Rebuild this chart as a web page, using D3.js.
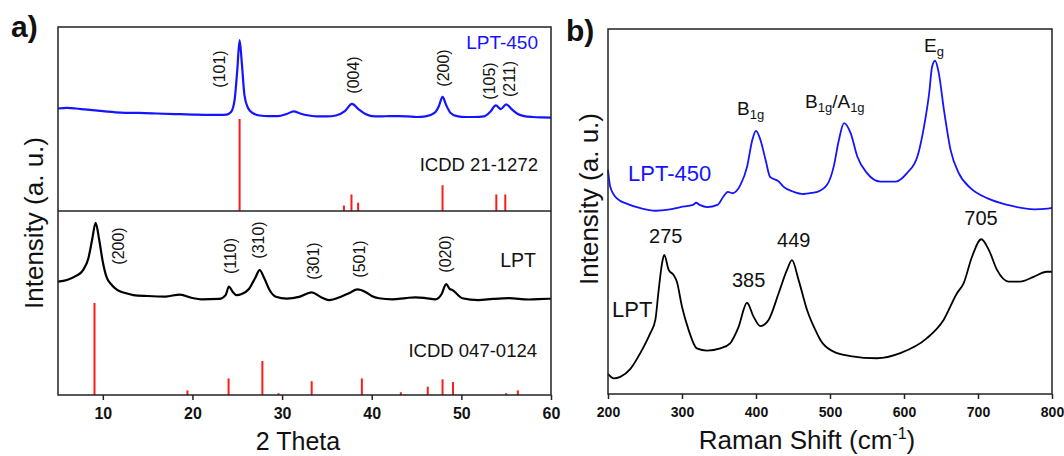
<!DOCTYPE html>
<html><head><meta charset="utf-8">
<script src="https://cdn.jsdelivr.net/npm/d3@7"></script>
<style>
html,body{margin:0;padding:0;background:#fff;}
svg{display:block;font-family:"Liberation Sans",Arial,sans-serif;}
</style></head><body>
<svg id="chart" width="1064" height="456"></svg>
<script>
// ---------- DATA: panel a (XRD) ----------
// LPT-450 XRD pattern [2theta, intensity a.u. (0-100 within upper sub-panel)]
const xrdLPT450 = [
 [5.0,55.7],[6.0,56.0],[7.0,55.7],[8.0,55.2],[10,54.3],[12,53.5],[14,53.3],[16,53.0],[18,52.7],[20,52.4],
 [22,52.2],[23,52.2],[23.8,52.4],[24.3,53.8],[24.7,60.3],[25.0,76.6],[25.26,92.9],[25.5,80.9],[25.8,63.0],
 [26.2,56.0],[26.7,53.3],[27.5,51.9],[28.5,51.6],[29.5,51.6],[30.5,52.7],[31.3,54.1],[32.0,53.0],[33,51.9],
 [34,51.4],[35,51.4],[36,51.9],[37,54.3],[37.8,58.2],[38.5,55.4],[39.3,52.7],[40,51.6],[41,51.4],[42,51.6],
 [43,51.6],[44,51.4],[45,51.1],[46,51.4],[47,53.3],[47.5,57.1],[47.9,62.1],[48.3,57.6],[48.8,53.3],[49.5,51.6],
 [50.5,51.1],[51.5,51.1],[52.5,51.4],[53.2,53.8],[53.85,57.4],[54.4,55.4],[55.0,58.0],[55.6,55.4],[56.3,52.7],
 [57,51.6],[58,51.1],[59,50.9],[60,50.8]
];
// LPT XRD pattern [2theta, intensity a.u. (0-100 within lower sub-panel)]
const xrdLPT = [
 [5.0,61.6],[6.0,62.5],[7.0,64.7],[7.8,67.9],[8.4,74.5],[8.8,84.2],[9.2,93.6],[9.6,84.2],[10.0,72.3],[10.4,64.3],
 [11.0,59.8],[11.6,57.1],[12.5,55.4],[13.4,54.3],[15,53.8],[17,53.5],[18.6,54.6],[20,52.7],[21,52.0],[23,52.2],
 [23.7,54.3],[24.07,58.9],[24.5,56.0],[24.9,54.3],[25.5,54.9],[26.3,57.6],[27.0,63.6],[27.5,67.9],[28.0,63.6],
 [28.6,57.1],[29.3,53.4],[30.5,52.4],[31.9,53.3],[33.3,55.8],[34.3,53.3],[35.25,51.6],[36.5,53.3],[37.5,55.4],
 [38.4,57.4],[39.3,56.0],[40.0,53.8],[40.8,52.6],[42.3,52.0],[43.8,52.7],[44.9,53.1],[46,52.7],[47.1,52.0],
 [47.8,54.9],[48.3,60.3],[48.7,57.6],[49.0,57.1],[49.5,54.9],[50.1,52.6],[51.9,51.6],[53.5,52.2],[55.3,52.6],
 [57.5,51.9],[59.7,52.3],[60,52.3]
];
// Reference sticks [2theta, relative intensity]
const icdd211272 = [[25.26,100],[36.9,6],[37.74,18],[38.48,9],[47.9,28],[53.9,18],[54.9,18]];
const icdd0470124 = [[9.07,100],[19.44,5],[24.03,18],[27.8,37],[29.6,2],[33.3,15],[38.9,18],[43.25,3],
 [46.25,9],[47.9,17],[49.07,14],[55.0,2],[56.3,5]];
// Miller index labels [text, 2theta position of label]
const hklTop = [["(101)",23.07],["(004)",37.94],["(200)",47.98],["(105)",53.19],["(211)",55.42]];
const hklBot = [["(200)",11.73],["(110)",24.19],["(310)",27.35],["(301)",33.48],["(501)",38.69],["(020)",48.25]];
const xTicksA = [10,20,30,40,50,60];

// ---------- DATA: panel b (Raman) ----------
const ramanLPT450 = [
 [200,61.4],[203,56.8],[212,53.6],[226,52.1],[244,50.9],[264,50.2],[284,50.6],[298,51.2],[315,51.8],[319,52.4],
 [324,51.8],[334,51.2],[348,51.8],[356,54.1],[362,55.4],[368,55.0],[379,57.3],[388,62.3],[395,69.6],[400,72.1],
 [406,69.6],[413,64.1],[419,59.5],[431,58.2],[437,56.8],[451,55.4],[464,54.8],[478,55.2],[483,55.4],[496,57.3],
 [505,62.3],[512,69.6],[519,74.2],[528,71.4],[537,65.0],[550,60.5],[568,58.2],[589,58.2],[604,60.5],[618,65.0],
 [627,73.2],[634,82.4],[638,89.7],[642,91.3],[647,87.9],[654,77.8],[663,66.8],[674,60.5],[690,56.4],[713,53.6],
 [740,51.8],[776,50.6],[794,50.8],[800,51.0]
];
const ramanLPT = [
 [200,5.5],[207.6,4.3],[216.6,4.7],[230,6.8],[243.6,11.2],[257,16.6],[264,20.3],[268,27.6],[273,35.8],[276,38.1],
 [282,34.0],[288.6,32.6],[293,30.8],[300,23.9],[309,17.5],[320,12.5],[333.8,11.9],[351.8,12.5],[365,13.9],
 [376.5,18.4],[387.8,25.0],[396.7,21.2],[405.8,18.6],[417,20.3],[430.6,27.6],[441.9,34.0],[448.6,36.7],
 [457.6,31.2],[469,23.0],[482.4,16.6],[487,14.8],[504.9,11.6],[527.5,10.4],[563.5,9.8],[595,11.2],[631,15.3],
 [653.5,20.3],[671.6,27.6],[680.5,30.3],[691.9,37.6],[704.5,42.4],[714.6,39.5],[725.7,34.0],[741.4,30.8],
 [757,30.8],[775,32.1],[793,33.5],[800,33.5]
];
// Peak labels [text, label x (cm-1), label y (a.u.)]
const ramanPeaksLPT = [["275",278,43.4],["385",390,31.2],["449",451,42.2],["705",704,48.2]];
const xTicksB = [200,300,400,500,600,700,800];

// ---------- DRAW ----------
const svg = d3.select("#chart");
const blue = "#1414ff", red = "#ff1a1a", black = "#000";

const xA = d3.scaleLinear().domain([5,60]).range([58,551]);
const yTop = d3.scaleLinear().domain([0,100]).range([211,27]);
const yBot = d3.scaleLinear().domain([0,100]).range([395,211]);
const sTop = d3.scaleLinear().domain([0,100]).range([211,119]);
const sBot = d3.scaleLinear().domain([0,100]).range([395,303]);

const xB = d3.scaleLinear().domain([200,800]).range([608,1052]);
const yB = d3.scaleLinear().domain([0,100]).range([394,29]);

const gA = svg.append("g");
const gB = svg.append("g");

function sticks(g, data, ys) {
  g.selectAll(null).data(data).enter().append("line")
    .attr("x1", d => xA(d[0])).attr("x2", d => xA(d[0]))
    .attr("y1", ys(0)).attr("y2", d => ys(d[1]))
    .attr("stroke", red).attr("stroke-width", 2);
}
sticks(gA, icdd211272, sTop);
sticks(gA, icdd0470124, sBot);

const lineTop = d3.line().x(d => xA(d[0])).y(d => yTop(d[1])).curve(d3.curveMonotoneX);
const lineBot = d3.line().x(d => xA(d[0])).y(d => yBot(d[1])).curve(d3.curveMonotoneX);
gA.append("path").attr("d", lineTop(xrdLPT450)).attr("fill","none").attr("stroke",blue).attr("stroke-width",2.2);
gA.append("path").attr("d", lineBot(xrdLPT)).attr("fill","none").attr("stroke",black).attr("stroke-width",2.2);

gA.append("rect").attr("x",58).attr("y",27).attr("width",551-58).attr("height",395-27)
  .attr("fill","none").attr("stroke","#222").attr("stroke-width",1.5);
gA.append("line").attr("x1",58).attr("x2",551).attr("y1",211).attr("y2",211)
  .attr("stroke","#222").attr("stroke-width",1.5);

const axA = gA.append("g").attr("transform","translate(0,395)")
  .call(d3.axisBottom(xA).tickValues(xTicksA).tickSize(5).tickPadding(8).tickFormat(d3.format("d")));
axA.select(".domain").remove();
axA.selectAll("line").attr("stroke","#222").attr("stroke-width",1.5);
axA.selectAll("text").attr("font-size",16).attr("font-weight","bold").attr("fill","#111")
  .attr("font-family","Liberation Sans, Arial, sans-serif");

function hkl(g, data, yc) {
  g.selectAll(null).data(data).enter().append("text")
    .attr("transform", (d,i) => `translate(${xA(d[1])},${yc[i]}) rotate(-90)`)
    .attr("text-anchor","middle").attr("dominant-baseline","central")
    .attr("font-size",16).attr("fill","#111").text(d => d[0]);
}
hkl(gA, hklTop, [69,75,68,81,79]);
hkl(gA, hklBot, [246,256,240,261,259,254]);

gA.append("text").attr("x",538).attr("y",49).attr("text-anchor","end").attr("font-size",19)
  .attr("fill",blue).text("LPT-450");
gA.append("text").attr("x",538).attr("y",171).attr("text-anchor","end").attr("font-size",18.5)
  .attr("fill","#111").text("ICDD 21-1272");
gA.append("text").attr("x",536).attr("y",267).attr("text-anchor","end").attr("font-size",19.5)
  .attr("fill","#111").text("LPT");
gA.append("text").attr("x",537).attr("y",357).attr("text-anchor","end").attr("font-size",18.5)
  .attr("fill","#111").text("ICDD 047-0124");

gA.append("text").attr("transform","translate(34,223) rotate(-90)").attr("text-anchor","middle")
  .attr("dominant-baseline","central").attr("font-size",26).attr("fill","#111").text("Intensity (a. u.)");
gA.append("text").attr("x",298).attr("y",450).attr("text-anchor","middle").attr("font-size",25)
  .attr("fill","#111").text("2 Theta");
gA.append("text").attr("x",11).attr("y",37).attr("font-size",30).attr("font-weight","bold")
  .attr("fill","#111").text("a)");

const lineB = d3.line().x(d => xB(d[0])).y(d => yB(d[1])).curve(d3.curveMonotoneX);
gB.append("path").attr("d", lineB(ramanLPT450)).attr("fill","none").attr("stroke",blue).attr("stroke-width",1.8);
gB.append("path").attr("d", lineB(ramanLPT)).attr("fill","none").attr("stroke",black).attr("stroke-width",1.8);
gB.append("rect").attr("x",608).attr("y",29).attr("width",1052-608).attr("height",394-29)
  .attr("fill","none").attr("stroke","#222").attr("stroke-width",1.5);
const axB = gB.append("g").attr("transform","translate(0,394)")
  .call(d3.axisBottom(xB).tickValues(xTicksB).tickSize(5).tickPadding(8).tickFormat(d3.format("d")));
axB.select(".domain").remove();
axB.selectAll("line").attr("stroke","#222").attr("stroke-width",1.5);
axB.selectAll("text").attr("font-size",14).attr("font-weight","bold").attr("fill","#111")
  .attr("font-family","Liberation Sans, Arial, sans-serif");

gB.selectAll(null).data(ramanPeaksLPT).enter().append("text")
  .attr("x", d => xB(d[1])).attr("y", d => yB(d[2]))
  .attr("text-anchor","middle").attr("dominant-baseline","central")
  .attr("font-size",20).attr("fill","#111").text(d => d[0]);

function mode(x, y, parts) {
  const t = gB.append("text").attr("x",x).attr("y",y).attr("font-size",19).attr("fill","#111");
  parts.forEach(p => {
    const s = t.append("tspan").text(p[0]);
    if (p[1]) s.attr("font-size",13).attr("dy",4); else s.attr("dy", p[2]||0);
  });
}
mode(737,115,[["B"],["1g",1]]);
mode(805,108,[["B"],["1g",1],["/",0,-4],["A"],["1g",1]]);
mode(924,52,[["E"],["g",1]]);

gB.append("text").attr("x",628).attr("y",181).attr("font-size",22).attr("fill",blue).text("LPT-450");
gB.append("text").attr("x",612).attr("y",317).attr("font-size",22).attr("fill","#111").text("LPT");

gB.append("text").attr("transform","translate(589,199) rotate(-90)").attr("text-anchor","middle")
  .attr("dominant-baseline","central").attr("font-size",26).attr("fill","#111").text("Intensity (a. u.)");
const xt = gB.append("text").attr("x",807).attr("y",449).attr("text-anchor","middle").attr("font-size",26).attr("fill","#111");
xt.append("tspan").text("Raman Shift (cm");
xt.append("tspan").text("-1").attr("font-size",16).attr("dy",-10);
xt.append("tspan").text(")").attr("dy",10);
gB.append("text").attr("x",566).attr("y",41).attr("font-size",30).attr("font-weight","bold")
  .attr("fill","#111").text("b)");
</script>
</body></html>
